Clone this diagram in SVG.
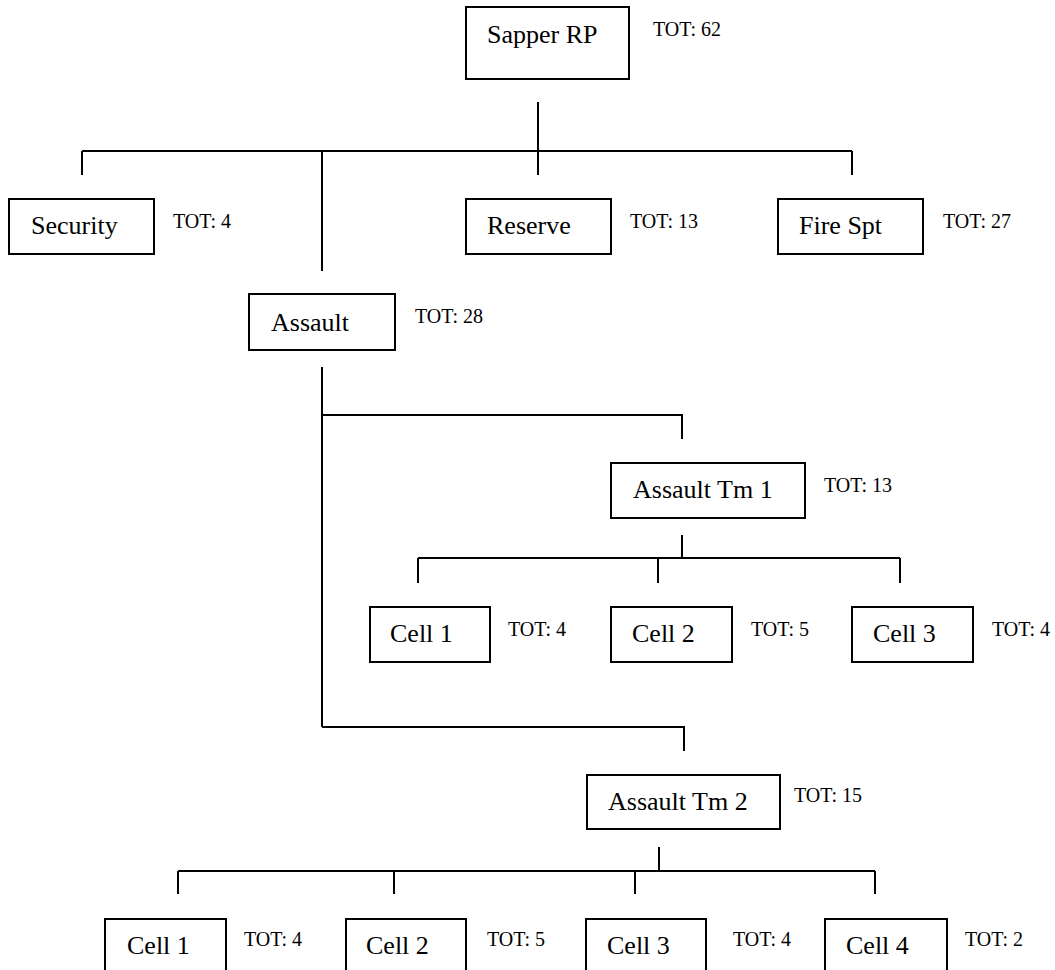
<svg xmlns="http://www.w3.org/2000/svg" width="1055" height="970" viewBox="0 0 1055 970">
<style>
.box{fill:#fff;stroke:#000;stroke-width:2}
.lbl{font-size:26px;fill:#000}
.tot{font-size:20px;fill:#000}
.c{fill:none;stroke:#000;stroke-width:2}
</style>
<rect width="1055" height="970" fill="#fff"/>
<g id="connectors" class="c">
<path d="M538 102V175M82 151H852M82 151V175M322 151V271M852 151V175"/>
<path d="M322 367V727M322 415H682V439M322 727H684V751"/>
<path d="M682 535V558M418 558H900M418 558V583M658 558V583M900 558V583"/>
<path d="M659 847V871M178 871H875M178 871V894M394 871V894M635 871V894M875 871V894"/>
</g>
<g font-family="Liberation Serif, Times New Roman, Times, serif">
<g id="sapper-rp"><rect class="box" x="466" y="7" width="163" height="72"/><text class="lbl" x="487" y="43">Sapper RP</text><text class="tot" x="653" y="36">TOT: 62</text></g>
<g id="security"><rect class="box" x="9" y="199" width="145" height="55"/><text class="lbl" x="31" y="234">Security</text><text class="tot" x="173" y="228">TOT: 4</text></g>
<g id="reserve"><rect class="box" x="466" y="199" width="145" height="55"/><text class="lbl" x="487" y="234">Reserve</text><text class="tot" x="630" y="228">TOT: 13</text></g>
<g id="fire-spt"><rect class="box" x="778" y="199" width="145" height="55"/><text class="lbl" x="799" y="234">Fire Spt</text><text class="tot" x="943" y="228">TOT: 27</text></g>
<g id="assault"><rect class="box" x="249" y="294" width="146" height="56"/><text class="lbl" x="271" y="331">Assault</text><text class="tot" x="415" y="323">TOT: 28</text></g>
<g id="assault-tm-1"><rect class="box" x="611" y="463" width="194" height="55"/><text class="lbl" x="633" y="498">Assault Tm 1</text><text class="tot" x="824" y="492">TOT: 13</text></g>
<g id="tm1-cell-1"><rect class="box" x="370" y="607" width="120" height="55"/><text class="lbl" x="390" y="642">Cell 1</text><text class="tot" x="508" y="636">TOT: 4</text></g>
<g id="tm1-cell-2"><rect class="box" x="611" y="607" width="121" height="55"/><text class="lbl" x="632" y="642">Cell 2</text><text class="tot" x="751" y="636">TOT: 5</text></g>
<g id="tm1-cell-3"><rect class="box" x="852" y="607" width="121" height="55"/><text class="lbl" x="873" y="642">Cell 3</text><text class="tot" x="992" y="636">TOT: 4</text></g>
<g id="assault-tm-2"><rect class="box" x="587" y="775" width="193" height="54"/><text class="lbl" x="608" y="810">Assault Tm 2</text><text class="tot" x="794" y="802">TOT: 15</text></g>
<g id="tm2-cell-1"><rect class="box" x="105" y="919" width="121" height="70"/><text class="lbl" x="127" y="954">Cell 1</text><text class="tot" x="244" y="946">TOT: 4</text></g>
<g id="tm2-cell-2"><rect class="box" x="346" y="919" width="120" height="70"/><text class="lbl" x="366" y="954">Cell 2</text><text class="tot" x="487" y="946">TOT: 5</text></g>
<g id="tm2-cell-3"><rect class="box" x="586" y="919" width="120" height="70"/><text class="lbl" x="607" y="954">Cell 3</text><text class="tot" x="733" y="946">TOT: 4</text></g>
<g id="tm2-cell-4"><rect class="box" x="825" y="919" width="122" height="70"/><text class="lbl" x="846" y="954">Cell 4</text><text class="tot" x="965" y="946">TOT: 2</text></g>
</g>
</svg>
